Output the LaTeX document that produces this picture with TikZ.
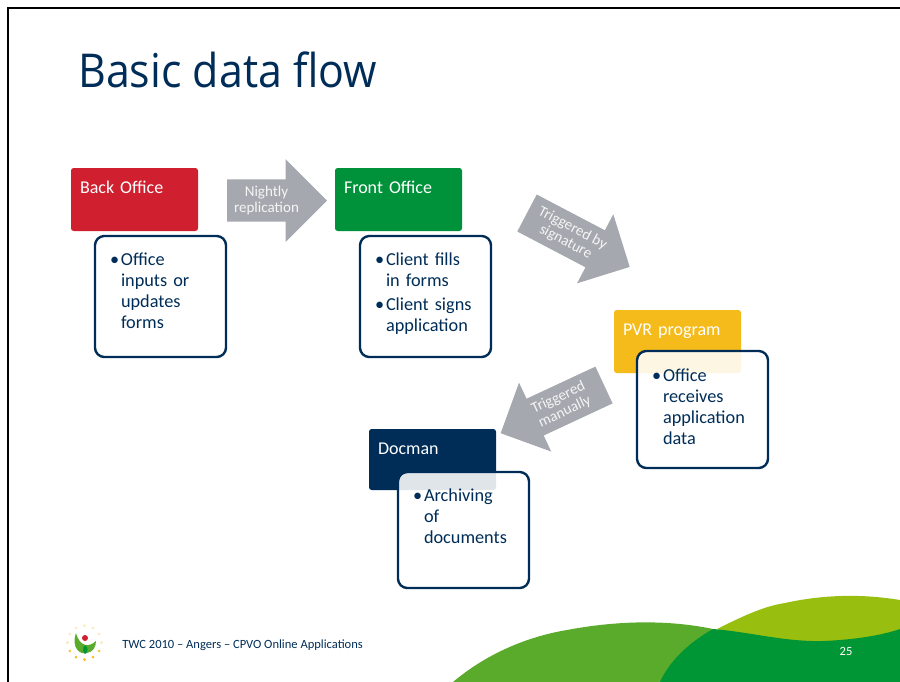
\documentclass[tikz,border=0pt]{standalone}
\usepackage{xcolor}
\usepackage{fontspec}
\setmainfont{Carlito}
\newfontfamily\titlefont[FakeStretch=0.92]{Open Sans}
\usepackage{tikz}
\usetikzlibrary{positioning,shapes.arrows}
\definecolor{navy}{RGB}{0,45,88}
\definecolor{officered}{RGB}{208,32,48}
\definecolor{officegreen}{RGB}{0,146,58}
\definecolor{pvryellow}{RGB}{245,187,27}
\definecolor{flowgray}{RGB}{166,168,175}
\definecolor{hillgreen}{RGB}{90,170,43}
\definecolor{hilllime}{RGB}{152,190,16}
\definecolor{hilldark}{RGB}{0,150,54}
\newcommand{\itm}{\par\noindent\hangindent=8.25pt\hangafter=1\makebox[8.25pt][l]{\textbullet}}
\tikzset{
  headbox/.style={rounded corners=2pt, align=left, text=white, inner xsep=6.75pt, inner ysep=0pt, outer sep=0pt,
    text width=81.75pt, text height=18.75pt, text depth=28.5pt, font=\fontsize{13.5}{15.75}\selectfont},
  bodybox/.style={draw=navy, line width=1.8pt, rounded corners=7pt, fill=white, fill opacity=0.88, text opacity=1,
    align=left, text=navy, inner xsep=11.25pt, inner ysep=0pt, outer sep=0pt, text width=75.75pt,
    font=\fontsize{13.7}{15.75}\selectfont},
  flowarrow/.style={single arrow, fill=flowgray, anchor=tail, align=center, text=white!88!flowgray, inner sep=0pt,
    outer sep=0pt, single arrow tip angle=90, font=\fontsize{11.3}{11.5}\selectfont}
}
\begin{document}
\begin{tikzpicture}[x=0.75pt,y=-0.75pt]
  \useasboundingbox (0,0) rectangle (900,682);
  \draw[line width=1.5pt] (8,682) -- (8,8) -- (900,8);

  \node[anchor=base west, inner sep=0pt, text=navy, font=\titlefont\fontsize{35}{40}\selectfont] (title) at (78,87) {Basic data flow};

  % Hills
  \fill[hillgreen] (453,682) .. controls (485,655) and (525,637) .. (567,630) .. controls (620,620) and (670,620) .. (713,629) -- (680,682) -- cycle;
  \fill[hilllime] (717,629) .. controls (745,615) and (765,606) .. (785,603) .. controls (830,593) and (870,595) .. (900,600) -- (900,650) -- (760,650) -- cycle;
  \fill[hilldark] (660,682) .. controls (670,660) and (690,642) .. (713,629) .. controls (750,632) and (785,642) .. (823,641) .. controls (850,640) and (880,636) .. (900,629) -- (900,682) -- cycle;

  % Headers
  \node[headbox, fill=officered, anchor=north west] (backhead) at (71,168) {Back Office};
  \node[headbox, fill=officegreen, anchor=north west] (fronthead) at (335,168) {Front Office};
  \node[headbox, fill=pvryellow, anchor=north west] (pvrhead) at (614,310) {PVR program};
  \node[headbox, fill=navy, anchor=north west, text depth=27pt] (dochead) at (369,429) {Docman};

  % Details
  \node[bodybox, anchor=north west, text height=6pt, text depth=84.75pt] (backbody) at (95,236)
    {\itm Office\newline inputs or\newline updates\newline forms\par};
  \node[bodybox, anchor=north west, text height=6pt, text depth=84.75pt] (frontbody) at (360,236)
    {\itm Client fills\newline in forms\par\vspace{2.25pt}\itm Client signs\newline application\par};
  \node[bodybox, anchor=north west, text height=6.75pt, text depth=81pt] (pvrbody) at (637,351)
    {\itm Office\newline receives\newline application\newline data\par};
  \node[bodybox, anchor=north west, text height=6pt, text depth=81pt] (docbody) at (398,472)
    {\itm Archiving\newline of\newline documents\par};

  % Flow arrows
  \node[flowarrow, minimum height=75pt, minimum width=62.25pt, single arrow head extend=10.5pt] (nightly) at (227,200.5)
    {Nightly\\replication};
  \node[flowarrow, rotate=-27.7, minimum height=87pt, minimum width=58.5pt, single arrow head extend=9.4pt] (signature) at (527,213)
    {Triggered by\\signature};
  \node[flowarrow, rotate=25, shape border rotate=180, minimum height=85.5pt, minimum width=57pt, single arrow head extend=9.4pt] (manual) at (604,385)
    {Triggered\\manually};

  % Footer
  \foreach \ang/\tint in {-90/30,-60/30,-30/30,0/35,30/85,60/95,90/100,120/95,150/85,180/35,-150/30,-120/30}
    \fill[pvryellow!\tint!white] (84.5,642.5) ++(\ang:17) circle[radius=1.5];
  \fill[hillgreen] (76,633) .. controls (71,648) and (80,655) .. (87,653) .. controls (93,652) and (96,647) .. (96,641) .. controls (90,647) and (80,648) .. (76,633) -- cycle;
  \fill[hilldark] (85,645) .. controls (82,648) and (83,652) .. (85,654) .. controls (88,652) and (89,648) .. (85,645) -- cycle;
  \fill[officered] (85,638) circle[radius=3];
  \node[anchor=base west, inner sep=0pt, text=navy, font=\fontsize{9.4}{10}\selectfont] (footer) at (122,648) {TWC 2010 -- Angers -- CPVO Online Applications};
  \node[anchor=base, inner sep=0pt, text=white, font=\fontsize{9.4}{10}\selectfont] (pagenum) at (846,655) {25};
\end{tikzpicture}
\end{document}
